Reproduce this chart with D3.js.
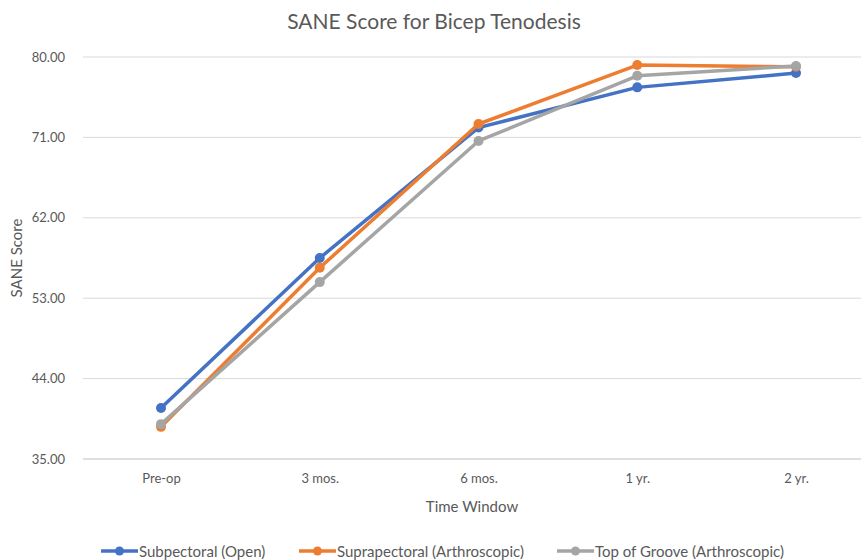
<!DOCTYPE html>
<html>
<head>
<meta charset="utf-8">
<script src="https://cdn.jsdelivr.net/npm/d3@7"></script>
<style>
  body { margin: 0; background: #fff; }
  svg { display: block; font-family: Lato, "Open Sans", sans-serif; }
</style>
</head>
<body>
<svg id="chart" width="861" height="560"></svg>
<script>
// Data
const categories = ['Pre-op', '3 mos.', '6 mos.', '1 yr.', '2 yr.'];
const yTicks = [35, 44, 53, 62, 71, 80];

const subpectoral = [40.7, 57.5, 72.1, 76.6, 78.2];
const suprapectoral = [38.6, 56.4, 72.5, 79.1, 78.9];
const topOfGroove = [38.9, 54.8, 70.6, 77.9, 79.0];

const series = [
    { name: 'Subpectoral (Open)', values: subpectoral, color: '#4472C4' },
    { name: 'Suprapectoral (Arthroscopic)', values: suprapectoral, color: '#ED7D31' },
    { name: 'Top of Groove (Arthroscopic)', values: topOfGroove, color: '#A5A5A5' }
];

const svg = d3.select('#chart');

// plot runs past the right edge of the picture (cropped), like the reference
const x = d3.scalePoint()
    .domain(categories)
    .range([161, 796]);

const y = d3.scaleLinear()
    .domain([35, 80])
    .range([459, 57]);

// Gridlines
svg.append('g')
    .selectAll('line')
    .data(yTicks)
    .join('line')
    .attr('x1', 83)
    .attr('x2', 861)
    .attr('y1', d => y(d))
    .attr('y2', d => y(d))
    .attr('stroke', d => d === 35 ? '#BFBFBF' : '#D9D9D9')
    .attr('stroke-width', 1);

// Y axis labels
const yAxis = svg.append('g')
    .attr('transform', 'translate(68,0)')
    .call(d3.axisLeft(y).tickValues(yTicks).tickFormat(d3.format('.2f')).tickSize(0));
yAxis.select('.domain').remove();
yAxis.selectAll('text')
    .attr('font-size', 13)
    .attr('fill', '#595959')
    .attr('font-family', 'Lato, sans-serif');

// X axis labels
const xAxis = svg.append('g')
    .attr('transform', 'translate(0,471)')
    .call(d3.axisBottom(x).tickSize(0));
xAxis.select('.domain').remove();
xAxis.selectAll('text')
    .attr('font-size', 13)
    .attr('fill', '#595959')
    .attr('font-family', 'Lato, sans-serif');

// Title and axis titles
svg.append('text')
    .attr('x', 434)
    .attr('y', 29)
    .attr('text-anchor', 'middle')
    .attr('font-size', 21)
    .attr('fill', '#595959')
    .text('SANE Score for Bicep Tenodesis');

svg.append('text')
    .attr('x', 472)
    .attr('y', 512)
    .attr('text-anchor', 'middle')
    .attr('font-size', 15)
    .attr('fill', '#595959')
    .text('Time Window');

svg.append('text')
    .attr('transform', 'translate(22,258) rotate(-90)')
    .attr('text-anchor', 'middle')
    .attr('font-size', 15)
    .attr('fill', '#595959')
    .text('SANE Score');

// Lines
const line = d3.line()
    .x((d, i) => x(categories[i]))
    .y(d => y(d));

const groups = svg.append('g')
    .selectAll('g')
    .data(series)
    .join('g');

groups.append('path')
    .attr('d', d => line(d.values))
    .attr('fill', 'none')
    .attr('stroke', d => d.color)
    .attr('stroke-width', 3.5)
    .attr('stroke-linejoin', 'round');

groups.each(function (s) {
    d3.select(this).selectAll('circle')
        .data(s.values)
        .join('circle')
        .attr('cx', (d, i) => x(categories[i]))
        .attr('cy', d => y(d))
        .attr('r', 5)
        .attr('fill', s.color);
});

// Legend
const legendX = [101, 299, 557];
const legend = svg.append('g')
    .selectAll('g')
    .data(series)
    .join('g')
    .attr('transform', (d, i) => `translate(${legendX[i]},551)`);

legend.append('line')
    .attr('x1', 0)
    .attr('x2', 37)
    .attr('stroke', d => d.color)
    .attr('stroke-width', 3.5);

legend.append('circle')
    .attr('cx', 18.5)
    .attr('r', 4.5)
    .attr('fill', d => d.color);

legend.append('text')
    .attr('x', 38)
    .attr('y', 5.5)
    .attr('font-size', 15)
    .attr('fill', '#595959')
    .text(d => d.name);
</script>
</body>
</html>
